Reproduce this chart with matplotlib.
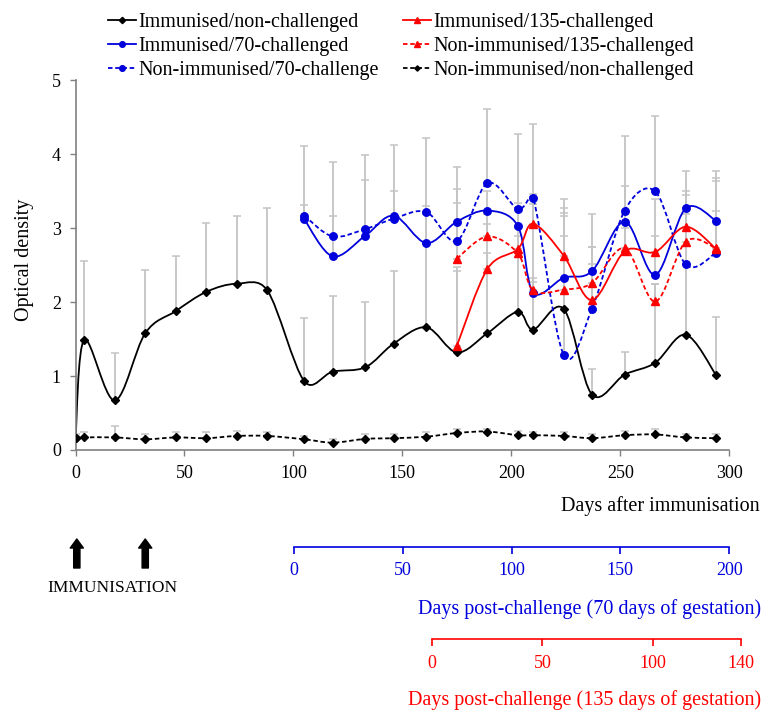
import numpy as np
import matplotlib
matplotlib.use("Agg")
import matplotlib.pyplot as plt
from matplotlib.path import Path
from matplotlib.patches import PathPatch
from matplotlib.lines import Line2D

plt.rcParams['font.family'] = ['Liberation Serif', 'DejaVu Serif']
plt.rcParams['font.size'] = 14.5

# days after immunisation (sampling points)
days = [0, 4, 18, 32, 46, 60, 74, 88, 105, 118, 133, 146, 161, 175, 189, 203,
        210, 224, 237, 252, 266, 280, 294]
days_70 = days[8:]
days_135 = days[13:]

# Immunised/non-challenged
imm_non = [0.16, 1.49, 0.67, 1.58, 1.88, 2.14, 2.25, 2.16, 0.93, 1.06, 1.12, 1.44,
           1.66, 1.32, 1.58, 1.87, 1.63, 1.91, 0.75, 1.02, 1.18, 1.56, 1.01]
imm_non_err = [0.05, 1.07, 0.64, 0.86, 0.74, 0.93, 0.91, 1.11, 0.86, 1.02, 0.88, 0.98,
               1.54, 1.10, 1.08, 0.79, 0.64, 1.26, 0.35, 0.31, 1.06, 0.95, 0.79]

# Non-immunised/non-challenged
non_non = [0.16, 0.17, 0.17, 0.145, 0.17, 0.16, 0.19, 0.19, 0.145, 0.10, 0.15, 0.16,
           0.18, 0.23, 0.25, 0.20, 0.20, 0.19, 0.16, 0.20, 0.21, 0.17, 0.16]
non_non_err = [0.03, 0.07, 0.16, 0.07, 0.07, 0.08, 0.07, 0.06, 0.05, 0.05, 0.06, 0.06,
               0.06, 0.06, 0.04, 0.06, 0.05, 0.05, 0.05, 0.06, 0.08, 0.05, 0.06]

# Immunised/70-challenged
imm_70 = [3.12, 2.62, 2.90, 3.17, 2.80, 3.09, 3.24, 3.03, 2.13, 2.33, 2.42, 3.09,
          2.37, 3.27, 3.10]
imm_70_err = [0.19, 0.54, 0.76, 0.33, 1.42, 0.74, 0.26, 1.24, 1.33, 1.07, 0.77, 1.16,
              1.03, 0.51, 0.68]

# Non-immunised/70-challenge
non_70 = [3.17, 2.89, 2.99, 3.13, 3.22, 2.83, 3.61, 3.26, 3.41, 1.29, 1.91, 3.24,
          3.50, 2.51, 2.67]
non_70_err = [0.95, 1.01, 1.00, 1.00, 0.08, 0.70, 1.01, 0.08, 1.00, 1.92, 0.84, 0.33,
              1.02, 1.00, 1.01]

# Immunised/135-challenged
imm_135 = [1.41, 2.45, 2.72, 3.06, 2.63, 2.03, 2.69, 2.68, 3.02, 2.72]
imm_135_err = [1.07, 0.61, 0.28, 0.27, 0.65, 0.48, 0.31, 0.22, 0.43, 0.92]

# Non-immunised/135-challenged
non_135 = [2.59, 2.89, 2.66, 2.16, 2.17, 2.26, 2.73, 2.01, 2.82, 2.73]
non_135_err = [0.75, 0.31, 0.24, 0.17, 0.73, 0.49, 0.47, 0.23, 0.38, 0.50]

immunisation_days = [0.6, 32]
labels = ["Immunised/non-challenged", "Immunised/70-challenged",
          "Non-immunised/70-challenge", "Immunised/135-challenged",
          "Non-immunised/135-challenged", "Non-immunised/non-challenged"]


def smooth_path(x, y, sx=2.18, sy=73.9):
    # Excel-like smoothed line drawn as cubic Bezier segments:
    # Catmull-Rom control points, clamped to half the segment length on screen
    pts = np.column_stack([x, y]).astype(float)
    scale = np.array([sx, sy])
    n = len(pts)
    verts = [pts[0]]
    codes = [Path.MOVETO]

    def ctrl(offset, seg_len):
        ln = np.hypot(*(offset * scale))
        if ln > seg_len / 2 and ln > 0:
            offset = offset * (seg_len / 2) / ln
        return offset

    for i in range(n - 1):
        p0 = pts[max(i - 1, 0)]
        p1, p2 = pts[i], pts[i + 1]
        p3 = pts[min(i + 2, n - 1)]
        seg = np.hypot(*((p2 - p1) * scale))
        c1 = p1 + ctrl((p2 - p0) / 6.0, seg)
        c2 = p2 - ctrl((p3 - p1) / 6.0, seg)
        verts += [c1, c2, p2]
        codes += [Path.CURVE4] * 3
    return Path(verts, codes)


fig = plt.figure(figsize=(7.72, 7.11), dpi=100)
ax = fig.add_axes([0.0978, 0.3671, 0.8469, 0.5197])

dash = (0, (2.5, 1.5))
series = [
    (days, imm_non, imm_non_err, 'black', '-', 'D', 4.3),
    (days_70, imm_70, imm_70_err, '#0000dd', '-', 'o', 5.4),
    (days_70, non_70, non_70_err, '#0000dd', dash, 'o', 5.4),
    (days_135, imm_135, imm_135_err, 'red', '-', '^', 5.4),
    (days_135, non_135, non_135_err, 'red', dash, '^', 5.4),
    (days, non_non, non_non_err, 'black', dash, 'D', 3.6),
]

for x, y, e, c, ls, m, ms in series:
    ax.errorbar(x, y, yerr=[np.zeros(len(e)), e], fmt='none', ecolor='#c4c4c4',
                elinewidth=1.3, capsize=3, capthick=1.1, zorder=1)

handles = []
for x, y, e, c, ls, m, ms in series:
    ax.add_patch(PathPatch(smooth_path(x, y), facecolor='none', edgecolor=c,
                           lw=1.3, linestyle=ls, zorder=2))
    ax.plot(x, y, linestyle='none', marker=m, color=c, markersize=ms, zorder=3)
    handles.append(Line2D([], [], color=c, linestyle=ls, lw=1.3, marker=m,
                          markersize=ms * 0.75))

ax.set_xlim(0, 300)
ax.set_ylim(0, 5)
ax.set_xticks([0, 50, 100, 150, 200, 250, 300])
ax.set_yticks([0, 1, 2, 3, 4, 5])
for s in ['top', 'right']:
    ax.spines[s].set_visible(False)
for s in ['left', 'bottom']:
    ax.spines[s].set_color('#808080')
    ax.spines[s].set_linewidth(1.2)
ax.tick_params(direction='out', length=4.5, width=1, color='#808080', labelsize=13, pad=6)

fig.text(24 / 772, 1 - 260 / 711, "Optical density", rotation=90, ha='center',
         va='center')
fig.text(760 / 772, 1 - 506 / 711, "Days after immunisation", ha='right', va='center')

# secondary scale: days post-challenge at 70 days of gestation
ax70 = fig.add_axes([293.7 / 772, 1 - 546.7 / 711, 435.6 / 772, 0.0001])
ax70.set_xlim(0, 200)
ax70.set_xticks([0, 50, 100, 150, 200])
# secondary scale: days post-challenge at 135 days of gestation
ax135 = fig.add_axes([432.3 / 772, 1 - 639.3 / 711, 308.4 / 772, 0.0001])
ax135.set_xlim(0, 140)
ax135.set_xticks([0, 50, 100, 140])
for a, c in [(ax70, '#0000dd'), (ax135, 'red')]:
    a.patch.set_visible(False)
    a.set_yticks([])
    for s in ['top', 'right', 'left']:
        a.spines[s].set_visible(False)
    a.spines['bottom'].set_color(c)
    a.spines['bottom'].set_linewidth(1.2)
    a.tick_params(axis='x', direction='out', length=5, width=1.2, color=c,
                  labelcolor=c, labelsize=13, pad=6)

fig.text(761 / 772, 1 - 609 / 711, "Days post-challenge (70 days of gestation)",
         ha='right', va='center', color='#0000dd')
fig.text(761 / 772, 1 - 700 / 711, "Days post-challenge (135 days of gestation)",
         ha='right', va='center', color='red')

for d in immunisation_days:
    ax.annotate('', xy=(d, 1 - 539 / 711), xytext=(d, 1 - 568 / 711),
                xycoords=('data', 'figure fraction'),
                textcoords=('data', 'figure fraction'),
                arrowprops=dict(facecolor='black', edgecolor='black', width=4.5,
                                headwidth=9.5, headlength=6.5, shrink=0),
                annotation_clip=False)
fig.text(112.5 / 772, 1 - 588 / 711, "IMMUNISATION", ha='center', va='center',
         fontsize=12.5)

fig.legend(handles, labels, ncol=2, loc='upper left',
           bbox_to_anchor=(108 / 772, 1 - 13 / 711), frameon=False,
           handlelength=1.4, handletextpad=0.1, columnspacing=1.2,
           labelspacing=0.25, numpoints=1, borderaxespad=0, borderpad=0)

fig.savefig("out.png", dpi=100)
